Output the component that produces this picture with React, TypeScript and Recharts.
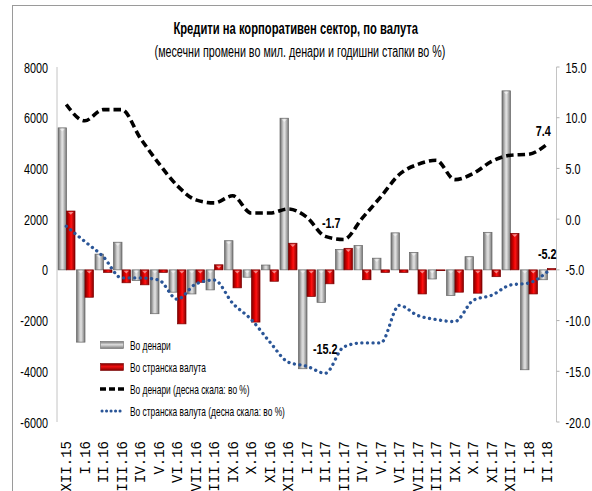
import React from 'react';
import { ComposedChart, Bar, Line, XAxis, YAxis, LabelList } from 'recharts';

const categories = ['XII.15','I.16','II.16','III.16','IV.16','V.16','VI.16','VII.16','VIII.16','IX.16','X.16','XI.16','XII.16','I.17','II.17','III.17','IV.17','V.17','VI.17','VII.17','VIII.17','IX.17','X.17','XI.17','XII.17','I.18','II.18'];
const denarMonthly = [5600, -2850, 620, 1090, -420, -1730, -880, -950, -790, 1150, -290, 190, 5980, -3900, -1280, 800, 960, 460, 1460, 690, -360, -1010, 520, 1480, 7060, -3940, -390];
const foreignMonthly = [2320, -1080, -100, -510, -590, -100, -2130, -490, 200, -710, -2060, -450, 1050, -1050, -550, 850, -390, -100, -100, -950, -30, -880, -920, -270, 1440, -950, 50];
const denarAnnual = [11.3, 9.7, 10.8, 10.8, 8.0, 5.5, 3.3, 1.9, 1.6, 2.3, 0.6, 0.6, 1.0, 0.2, -1.7, -2.0, 0.1, 2.2, 4.4, 5.4, 5.8, 3.9, 4.5, 5.7, 6.3, 6.4, 7.4];
const foreignAnnual = [-0.7, -2.2, -3.7, -5.8, -5.8, -6.0, -7.9, -6.4, -6.0, -8.3, -9.9, -12.1, -14.1, -14.5, -15.2, -12.6, -12.2, -12.2, -8.5, -9.5, -9.9, -10.1, -8.0, -7.5, -6.5, -6.3, -5.2];
const leftTicks = [-6000, -4000, -2000, 0, 2000, 4000, 6000, 8000];
const rightTicks = [-20, -15, -10, -5, 0, 5, 10, 15];
const labelledDenar = ['II.17', 'II.18'];
const labelledForeign = ['II.17', 'II.18'];

const title = 'Кредити на корпоративен сектор, по валута';
const subtitle = '(месечни промени во мил. денари и годишни стапки во %)';
const seriesNames = {
  dm: 'Во денари',
  fm: 'Во странска валута',
  da: 'Во денари  (десна скала: во %)',
  fa: 'Во странска валута  (десна скала: во %)',
};

const data = categories.map((c, i) => ({
  cat: c,
  dm: denarMonthly[i],
  fm: foreignMonthly[i],
  da: denarAnnual[i],
  fa: foreignAnnual[i],
}));

const SANS = "'Liberation Sans', Arial, sans-serif";
const SQUEEZE = 0.7;

const BevelBar = (props: any) => {
  const { x, y, width, height, fill, stroke } = props;
  if (width == null || height == null) return null;
  const top = Math.min(y, y + height);
  const h = Math.abs(height);
  const tri = h > 5 ? (
    <polygon
      points={`${x + 1.5},${top + 1} ${x + width - 1.5},${top + 1} ${x + width / 2},${top + 1 + (width - 3) / 2}`}
      fill="#ffffff"
      opacity={0.5}
    />
  ) : null;
  return (
    <g>
      <rect x={x} y={top} width={width} height={Math.max(h, 0.8)} fill={fill} stroke={stroke} strokeWidth={0.7} />
      {tri}
    </g>
  );
};

const XTick = (props: any) => {
  const { x, y, payload } = props;
  const ty = y + 11;
  return (
    <text
      x={x}
      y={ty}
      transform={`rotate(-90 ${x} ${ty})`}
      textAnchor="end"
      dy="0.36em"
      fontFamily="'Liberation Mono', 'DejaVu Sans Mono', monospace"
      fontSize={14}
      fill="#000"
    >
      {payload.value}
    </text>
  );
};

const YTick = (props: any) => {
  const { x, y, payload, anchor, fmt } = props;
  return (
    <g transform={`translate(${x},${y})`}>
      <text
        transform={`scale(${SQUEEZE},1)`}
        textAnchor={anchor}
        dy="0.36em"
        fontFamily={SANS}
        fontSize={15.5}
        fill="#000"
      >
        {fmt ? fmt(payload.value) : payload.value}
      </text>
    </g>
  );
};

const makeLabel = (names: string[], dx: number[], dy: number[]) => (props: any) => {
  const { x, y, value, index } = props;
  const cat = categories[index];
  const k = names.indexOf(cat);
  if (k < 0) return null;
  return (
    <g transform={`translate(${x + dx[k]},${y + dy[k]})`}>
      <text
        transform={`scale(${SQUEEZE},1)`}
        textAnchor="middle"
        fontFamily={SANS}
        fontWeight="bold"
        fontSize={15.5}
        fill="#000"
      >
        {value.toFixed(1)}
      </text>
    </g>
  );
};

const LegendBox = () => {
  const row: React.CSSProperties = { display: 'flex', alignItems: 'center', height: 22 };
  const txt: React.CSSProperties = {
    fontFamily: SANS,
    fontSize: 13.5,
    color: '#000',
    whiteSpace: 'nowrap',
    display: 'inline-block',
    transform: 'scaleX(0.62)',
    transformOrigin: 'left center',
    marginLeft: 6,
  };
  const sw: React.CSSProperties = { flex: '0 0 24px', display: 'block' };
  return (
    <div style={{ position: 'absolute', left: 100, top: 334 }}>
      <div style={row}>
        <svg width={24} height={10} style={sw}>
          <rect x={0.5} y={1.5} width={23} height={7} fill="url(#grayGradH)" stroke="#6b6b6b" strokeWidth={0.6} />
        </svg>
        <span style={txt}>{seriesNames.dm}</span>
      </div>
      <div style={row}>
        <svg width={24} height={10} style={sw}>
          <rect x={0.5} y={1.5} width={23} height={7} fill="url(#redGradH)" stroke="#7a0000" strokeWidth={0.6} />
        </svg>
        <span style={txt}>{seriesNames.fm}</span>
      </div>
      <div style={row}>
        <svg width={24} height={10} style={sw}>
          <line x1={0} y1={5} x2={24} y2={5} stroke="#000" strokeWidth={3.5} strokeDasharray="6 3" />
        </svg>
        <span style={txt}>{seriesNames.da}</span>
      </div>
      <div style={row}>
        <svg width={24} height={10} style={sw}>
          <line x1={2} y1={5} x2={24} y2={5} stroke="#2a5597" strokeWidth={3} strokeDasharray="0.1 4.4" strokeLinecap="round" />
        </svg>
        <span style={txt}>{seriesNames.fa}</span>
      </div>
    </div>
  );
};

export default function App() {
  return (
    <div style={{ position: 'absolute', left: 0, top: 0, width: 592, height: 491, background: '#fff', overflow: 'hidden' }}>
      <svg width={0} height={0} style={{ position: 'absolute' }}>
        <defs>
          <linearGradient id="grayGradH" x1="0" y1="0" x2="0" y2="1">
            <stop offset="0%" stopColor="#777" />
            <stop offset="45%" stopColor="#dcdcdc" />
            <stop offset="100%" stopColor="#7a7a7a" />
          </linearGradient>
          <linearGradient id="redGradH" x1="0" y1="0" x2="0" y2="1">
            <stop offset="0%" stopColor="#800000" />
            <stop offset="45%" stopColor="#f01010" />
            <stop offset="100%" stopColor="#800000" />
          </linearGradient>
        </defs>
      </svg>
      <div style={{ position: 'absolute', left: 12, top: 5, width: 600, height: 500, borderTop: '1px solid #9a9a9a', borderLeft: '1px solid #9a9a9a' }} />
      <div style={{ position: 'absolute', left: 0, width: 592, top: 20, textAlign: 'center' }}>
        <span
          style={{
            display: 'inline-block', transform: 'scaleX(0.7)', whiteSpace: 'nowrap',
            fontFamily: SANS, fontWeight: 'bold', fontSize: 16, color: '#000',
          }}
        >
          {title}
        </span>
      </div>
      <div style={{ position: 'absolute', left: 0, width: 600, top: 43, textAlign: 'center' }}>
        <span
          style={{
            display: 'inline-block', transform: 'scaleX(0.67)', whiteSpace: 'nowrap',
            fontFamily: SANS, fontSize: 16, color: '#000',
          }}
        >
          {subtitle}
        </span>
      </div>
      <div style={{ position: 'absolute', left: 0, top: 0 }}>
        <ComposedChart
          width={592}
          height={491}
          data={data}
          margin={{ top: 67, right: 0, bottom: 0, left: 0 }}
          barGap={0}
          barSize={8.5}
        >
          <defs>
            <linearGradient id="grayGrad" x1="0" y1="0" x2="1" y2="0">
              <stop offset="0%" stopColor="#6c6c6c" />
              <stop offset="40%" stopColor="#d2d2d2" />
              <stop offset="55%" stopColor="#e0e0e0" />
              <stop offset="100%" stopColor="#777777" />
            </linearGradient>
            <linearGradient id="redGrad" x1="0" y1="0" x2="1" y2="0">
              <stop offset="0%" stopColor="#7d0000" />
              <stop offset="40%" stopColor="#e60000" />
              <stop offset="55%" stopColor="#ff1414" />
              <stop offset="100%" stopColor="#860000" />
            </linearGradient>
          </defs>
          <XAxis
            dataKey="cat"
            height={69}
            axisLine={false}
            tickLine={false}
            interval={0}
            tick={<XTick />}
          />
          <YAxis
            yAxisId="left"
            orientation="left"
            width={57}
            domain={[-6000, 8000]}
            ticks={leftTicks}
            interval={0}
            axisLine={{ stroke: '#c4c4c4' }}
            tickLine={false}
            tickSize={0}
            tickMargin={9}
            tick={<YTick anchor="end" />}
          />
          <YAxis
            yAxisId="right"
            orientation="right"
            width={35.5}
            domain={[-20, 15]}
            ticks={rightTicks}
            interval={0}
            axisLine={{ stroke: '#c4c4c4' }}
            tickLine={{ stroke: '#b0b0b0' }}
            tickSize={3}
            tickMargin={6}
            tick={<YTick anchor="start" fmt={(v: number) => v.toFixed(1)} />}
          />
          <Bar yAxisId="left" dataKey="dm" name={seriesNames.dm} fill="url(#grayGrad)" stroke="#666666" shape={<BevelBar />} isAnimationActive={false} />
          <Bar yAxisId="left" dataKey="fm" name={seriesNames.fm} fill="url(#redGrad)" stroke="#7a0000" shape={<BevelBar />} isAnimationActive={false} />
          <Line
            yAxisId="right"
            type="monotone"
            dataKey="da"
            name={seriesNames.da}
            stroke="#000"
            strokeWidth={3.6}
            strokeDasharray="7.5 4"
            dot={false}
            isAnimationActive={false}
          >
            <LabelList dataKey="da" content={makeLabel(labelledDenar, [6, -4], [-8, -8])} />
          </Line>
          <Line
            yAxisId="right"
            type="monotone"
            dataKey="fa"
            name={seriesNames.fa}
            stroke="#2a5597"
            strokeWidth={3.3}
            strokeDasharray="0.1 5.5"
            strokeLinecap="round"
            dot={false}
            isAnimationActive={false}
          >
            <LabelList dataKey="fa" content={makeLabel(labelledForeign, [0, 0], [-19, -13])} />
          </Line>
        </ComposedChart>
      </div>
      <LegendBox />
    </div>
  );
}
